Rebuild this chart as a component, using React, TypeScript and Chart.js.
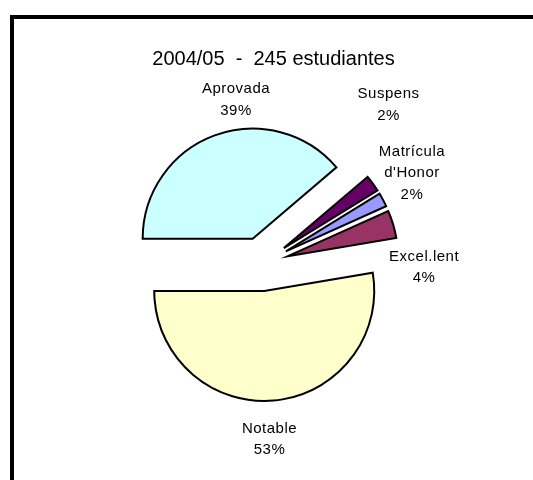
import React, { useEffect, useRef } from "react";
import { Chart, registerables } from "chart.js";

Chart.register(...registerables);

// ---- data ----
const TITLE = "2004/05  -  245 estudiantes";
const categories = ["Aprovada", "Suspens", "Matrícula d'Honor", "Excel.lent", "Notable"];
const labelLines = [["Aprovada"], ["Suspens"], ["Matrícula", "d'Honor"], ["Excel.lent"], ["Notable"]];
const students = [95, 6, 5, 10, 129];
const sliceColors = ["#CCFFFF", "#660066", "#9999FF", "#993366", "#FFFFCC"];

// ---- style ----
const FONT = "'Liberation Sans', Arial, Helvetica, sans-serif";
const EXPLODE = 27;
const LABEL_GAP = 24;
const labelNudges = [
  [29.6, -14.5],
  [-3.7, -65.6],
  [7.7, -16.6],
  [8, 48.8],
  [-5.9, 13.5],
];

const explodePlugin = {
  id: "explodeSlices",
  afterDatasetUpdate(chart: any, args: any, opts: any) {
    const d = opts.distance || 0;
    args.meta.data.forEach((arc: any) => {
      const mid = (arc.startAngle + arc.endAngle) / 2;
      arc.x += Math.cos(mid) * d;
      arc.y += Math.sin(mid) * d;
    });
  },
};

const labelPlugin = {
  id: "sliceLabels",
  afterDatasetsDraw(chart: any, _args: any, opts: any) {
    const ctx = chart.ctx;
    const meta = chart.getDatasetMeta(0);
    const values: number[] = chart.data.datasets[0].data;
    const total = values.reduce((a, b) => a + b, 0);
    ctx.save();
    ctx.fillStyle = "#000";
    ctx.textAlign = "center";
    ctx.textBaseline = "alphabetic";
    // title
    ctx.font = `20px ${FONT}`;
    ctx.fillText(opts.title, opts.titleX, opts.titleY);
    // labels
    ctx.font = `15px ${FONT}`;
    try {
      (ctx as any).letterSpacing = "0.5px";
    } catch (e) {}
    const lh = 21.5;
    meta.data.forEach((arc: any, i: number) => {
      const mid = (arc.startAngle + arc.endAngle) / 2;
      const r = arc.outerRadius + LABEL_GAP;
      const nx = labelNudges[i][0];
      const ny = labelNudges[i][1];
      const ax = arc.x + Math.cos(mid) * r + nx;
      const ay = arc.y + Math.sin(mid) * r + ny;
      const pct = Math.round((values[i] / total) * 100) + "%";
      const lines = [...labelLines[i], pct];
      const n = lines.length;
      lines.forEach((t, k) => {
        const midY = ay - ((n - 1) * lh) / 2 + k * lh;
        ctx.fillText(t, ax, midY + 5.4);
      });
    });
    ctx.restore();
  },
};

export default function App() {
  const ref = useRef<HTMLCanvasElement | null>(null);
  useEffect(() => {
    if (!ref.current) return;
    const chart = new Chart(ref.current, {
      type: "pie",
      data: {
        labels: categories,
        datasets: [
          {
            data: students,
            backgroundColor: sliceColors,
            borderColor: "#000000",
            borderWidth: 2,
            borderJoinStyle: "miter",
          } as any,
        ],
      },
      options: {
        responsive: false,
        animation: false,
        devicePixelRatio: 1,
        events: [],
        rotation: -90,
        radius: 110,
        layout: { padding: { left: 0, right: 9, top: 48, bottom: 0 } },
        plugins: {
          legend: { display: false },
          tooltip: { enabled: false },
          title: { display: false },
          explodeSlices: { distance: EXPLODE },
          sliceLabels: { title: TITLE, titleX: 273.5, titleY: 65 },
        } as any,
      },
      plugins: [explodePlugin, labelPlugin],
    });
    return () => chart.destroy();
  }, []);

  return (
    <div style={{ position: "fixed", left: 0, top: 0, width: 533, height: 480, background: "#fff", overflow: "hidden" }}>
      <div
        style={{
          position: "absolute",
          left: 10,
          top: 15,
          width: 523,
          height: 465,
          borderLeft: "4px solid #000",
          borderTop: "4px solid #000",
          boxSizing: "border-box",
        }}
      />
      <canvas ref={ref} width={533} height={480} style={{ position: "absolute", left: 0, top: 0 }} />
    </div>
  );
}
